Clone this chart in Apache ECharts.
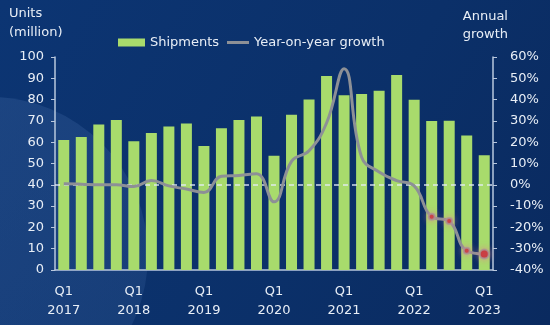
<!DOCTYPE html>
<html>
<head>
<meta charset="utf-8">
<script src="https://cdn.jsdelivr.net/npm/echarts@6/dist/echarts.min.js"></script>
<style>
  html, body { margin: 0; padding: 0; background: #0b3169; }
  #chart { width: 550px; height: 325px; }
</style>
</head>
<body>
<div id="chart"></div>
<script>
// Quarterly shipments (million units) and year-on-year growth (%)
const quarters = [
  'Q1 2017', 'Q2 2017', 'Q3 2017', 'Q4 2017',
  'Q1 2018', 'Q2 2018', 'Q3 2018', 'Q4 2018',
  'Q1 2019', 'Q2 2019', 'Q3 2019', 'Q4 2019',
  'Q1 2020', 'Q2 2020', 'Q3 2020', 'Q4 2020',
  'Q1 2021', 'Q2 2021', 'Q3 2021', 'Q4 2021',
  'Q1 2022', 'Q2 2022', 'Q3 2022', 'Q4 2022',
  'Q1 2023'
];
const shipments = [
  61, 62.4, 68.3, 70.4,
  60.5, 64.3, 67.4, 68.8,
  58.2, 66.6, 70.4, 72.1,
  53.6, 72.9, 80.1, 91.1,
  82, 82.6, 84.2, 91.5,
  79.9, 69.9, 70.1, 63.2,
  53.9
];
const growth = [
  0.5, 0.3, 0, 0,
  -0.8, 2, -0.5, -2,
  -3.6, 4, 4.4, 5.2,
  -8, 11, 16, 29,
  54.5, 13, 6, 2,
  -0.5, -15, -17, -31,
  -32.5
];
// quarters whose growth point is highlighted with a red dot
const highlighted = ['Q2 2022', 'Q3 2022', 'Q4 2022', 'Q1 2023'];
const leftTicks = { min: 0, max: 100, interval: 10 };
const rightTicks = { min: -40, max: 60, interval: 10 };

const FONT = 'DejaVu Sans';
const TEXT = '#e8eef6';
const AXIS = '#b9c8de';

const growthData = growth.map((v, i) => {
  if (!highlighted.includes(quarters[i])) return v;
  const last = i === quarters.length - 1;
  return {
    value: v,
    symbol: 'circle',
    symbolSize: last ? 9 : 6,
    itemStyle: {
      color: '#c42a30',
      borderColor: 'rgba(170,150,150,0.8)',
      borderWidth: 2,
      shadowColor: 'rgba(220,140,140,0.9)',
      shadowBlur: 6
    }
  };
});

const chart = echarts.init(document.getElementById('chart'), null, { renderer: 'canvas' });

chart.setOption({
  animation: false,
  backgroundColor: {
    type: 'linear', x: 0, y: 0, x2: 1, y2: 1,
    colorStops: [
      { offset: 0, color: '#0c3573' },
      { offset: 0.6, color: '#0b3069' },
      { offset: 1, color: '#0a2a5f' }
    ]
  },
  graphic: [
    {
      type: 'circle', z: -10, silent: true,
      shape: { cx: -10, cy: 255, r: 158 },
      style: {
        fill: {
          type: 'linear', x: 0, y: 0, x2: 1, y2: 1,
          colorStops: [
            { offset: 0, color: 'rgba(60,100,160,0.38)' },
            { offset: 1, color: 'rgba(50,90,150,0.28)' }
          ]
        }
      }
    },
    {
      type: 'text', left: 9, top: 4,
      style: { text: 'Units\n(million)', fill: TEXT, font: '13px "' + FONT + '"', lineHeight: 19 }
    },
    {
      type: 'text', right: 42, top: 8,
      style: { text: 'Annual\ngrowth', fill: TEXT, font: '13px "' + FONT + '"', lineHeight: 18, align: 'right' }
    }
  ],
  legend: [
    {
      data: [{ name: 'Shipments', icon: 'rect' }],
      left: 118, top: 36, padding: 0,
      itemWidth: 27, itemHeight: 8,
      textStyle: { color: TEXT, fontFamily: FONT, fontSize: 13 }
    },
    {
      data: [{ name: 'Year-on-year growth', icon: 'rect' }],
      left: 227, top: 36, padding: 0,
      itemWidth: 22, itemHeight: 3,
      textStyle: { color: TEXT, fontFamily: FONT, fontSize: 13 }
    }
  ],
  grid: { left: 55, right: 57, top: 57, bottom: 55 },
  xAxis: {
    type: 'category',
    data: quarters,
    axisLine: { lineStyle: { color: AXIS, width: 1.5 } },
    axisTick: { show: false },
    axisLabel: {
      interval: 3,
      color: TEXT, fontFamily: FONT, fontSize: 13, lineHeight: 19, margin: 12,
      formatter: v => v.replace(' ', '\n')
    }
  },
  yAxis: [
    {
      type: 'value',
      min: leftTicks.min, max: leftTicks.max, interval: leftTicks.interval,
      splitLine: { show: false },
      axisLine: { show: true, lineStyle: { color: AXIS, width: 1.5 } },
      axisTick: { show: true, length: 4, lineStyle: { color: AXIS } },
      axisLabel: { color: TEXT, fontFamily: FONT, fontSize: 13, margin: 11 }
    },
    {
      type: 'value',
      min: rightTicks.min, max: rightTicks.max, interval: rightTicks.interval,
      splitLine: { show: false },
      axisLine: { show: true, lineStyle: { color: AXIS, width: 1.5 } },
      axisTick: { show: true, length: 4, lineStyle: { color: AXIS } },
      axisLabel: { color: TEXT, fontFamily: FONT, fontSize: 13, margin: 17, formatter: '{value}%' }
    }
  ],
  series: [
    {
      name: 'Shipments',
      type: 'bar',
      data: shipments,
      barWidth: 11,
      itemStyle: { color: '#a8db6c' }
    },
    {
      name: 'Year-on-year growth',
      type: 'line',
      yAxisIndex: 1,
      data: growthData,
      smooth: 0.45,
      symbol: 'none',
      showSymbol: true,
      z: 5,
      lineStyle: { color: '#8d9096', width: 3 },
      itemStyle: { color: '#8d9096' },
      markLine: {
        silent: true,
        symbol: 'none',
        label: { show: false },
        lineStyle: { color: '#e4ecf6', type: [5, 4], width: 1.5, opacity: 0.9 },
        data: [{ yAxis: 0 }],
        z: 4
      }
    }
  ]
});
</script>
</body>
</html>
